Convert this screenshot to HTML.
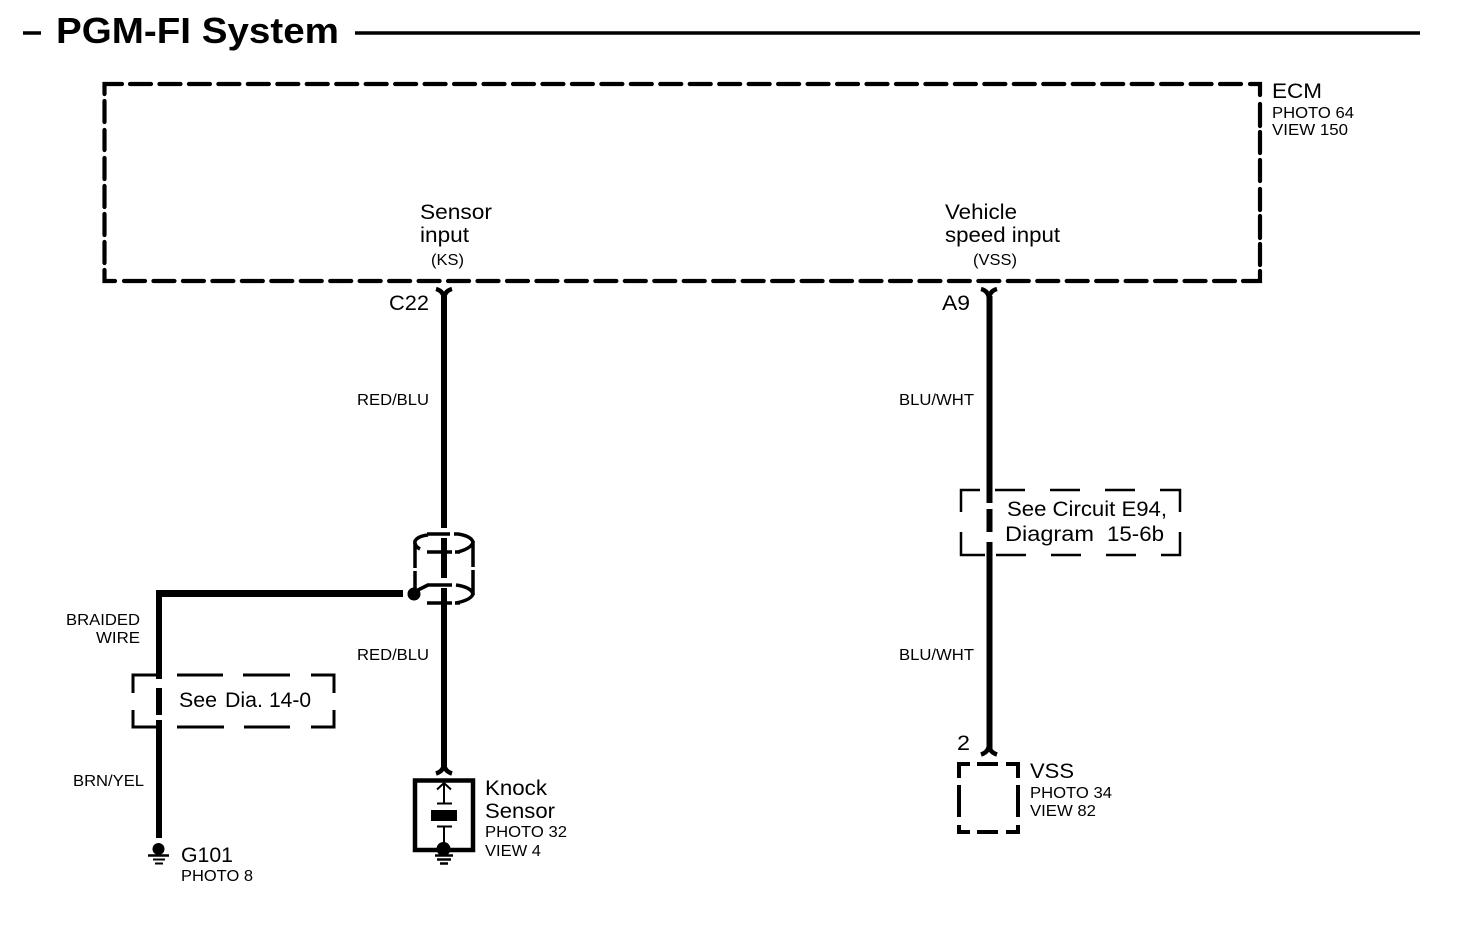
<!DOCTYPE html>
<html><head><meta charset="utf-8"><style>
html,body{margin:0;padding:0;background:#fff}
svg{display:block}
text{font-family:"Liberation Sans",sans-serif;fill:#000}
.m{font-size:21px}.s{font-size:15.5px}
.l{stroke:#000;fill:none}
.r{stroke:#000;fill:none;stroke-width:4.2;stroke-linecap:round}
</style></head><body>
<svg width="1472" height="934" viewBox="0 0 1472 934" xmlns="http://www.w3.org/2000/svg">
<rect width="1472" height="934" fill="#fff"/>
<!-- title -->
<path class="l" stroke-width="3.500" d="M23 33H41M355 33H1420"/>
<text x="56" y="43" font-size="36.5" font-weight="bold" textLength="283" lengthAdjust="spacingAndGlyphs">PGM-FI System</text>
<!-- ECM box -->
<path class="r" d="M122 84H104.500V94M104.500 101V122M104.500 130V150M104.500 158V179M104.500 186V207M104.500 214V235M104.500 242V263M104.500 270V281H115"/>
<path class="r" stroke-dasharray="21 8.460" d="M130 84H1243"/>
<path class="r" stroke-dasharray="21 8.460" d="M124 281H1236"/>
<path class="r" d="M1250 84H1260V95M1260 104V126M1260 132V153M1260 160V181M1260 189V210M1260 216V238M1260 244V265M1260 271V281H1243"/>
<text x="1272" y="98" class="m" textLength="50" lengthAdjust="spacingAndGlyphs">ECM</text>
<text x="1272" y="118" class="s" textLength="82" lengthAdjust="spacingAndGlyphs">PHOTO 64</text>
<text x="1272" y="135" class="s" textLength="76" lengthAdjust="spacingAndGlyphs">VIEW 150</text>
<text x="420" y="219" class="m" textLength="72" lengthAdjust="spacingAndGlyphs">Sensor</text>
<text x="420" y="242" class="m" textLength="49" lengthAdjust="spacingAndGlyphs">input</text>
<text x="431" y="265" class="s" textLength="33" lengthAdjust="spacingAndGlyphs">(KS)</text>
<text x="945" y="219" class="m" textLength="72" lengthAdjust="spacingAndGlyphs">Vehicle</text>
<text x="945" y="242" class="m" textLength="115" lengthAdjust="spacingAndGlyphs">speed input</text>
<text x="973" y="265" class="s" textLength="44" lengthAdjust="spacingAndGlyphs">(VSS)</text>
<!-- left wire -->
<path class="l" stroke-width="6" d="M444 296V528M444 538V578M444 588V770"/>
<path class="l" stroke-width="4.500" d="M436 289Q444 291 444 300Q444 291 452 289"/>
<text x="389" y="310" class="m" textLength="40" lengthAdjust="spacingAndGlyphs">C22</text>
<text x="357" y="405" class="s" textLength="72" lengthAdjust="spacingAndGlyphs">RED/BLU</text>
<text x="357" y="660" class="s" textLength="72" lengthAdjust="spacingAndGlyphs">RED/BLU</text>
<!-- shield -->
<path class="l" stroke-width="3.500" d="M420 549Q414 546 415 541Q418 536 428 535M427 534H450M454 534H458Q471 536 473 542Q472 548 458 552M427 552H452M455 552H460"/>
<path class="l" stroke-width="3.500" d="M415 543V568M415 571V590M473 541V567M473 570V595"/>
<path class="l" stroke-width="3.500" d="M427 585H452M456 585Q471 587 473 594Q471 600 456 603M427 603H452M455 603H460M418 590L428 585"/>
<circle cx="414" cy="594" r="6.500" fill="#000"/>
<path class="l" stroke-width="7" d="M403 593.500H159"/>
<path class="l" stroke-width="6" d="M159 590V679M159 688V715M159 720V838"/>
<text x="66" y="625" class="s" textLength="74" lengthAdjust="spacingAndGlyphs">BRAIDED</text>
<text x="96" y="643" class="s" textLength="44" lengthAdjust="spacingAndGlyphs">WIRE</text>
<text x="73" y="786" class="s" textLength="71" lengthAdjust="spacingAndGlyphs">BRN/YEL</text>
<!-- See Dia box -->
<path class="l" stroke-width="3" d="M133 693V675H156M177 675H223M243 675H290M311 675H334V693M334 710V727H311M290 727H244M224 727H177M156 727H133V710"/>
<text x="179" y="707" class="m" textLength="38" lengthAdjust="spacingAndGlyphs">See</text>
<text x="225" y="707" class="m" textLength="38" lengthAdjust="spacingAndGlyphs">Dia.</text>
<text x="269" y="707" class="m" textLength="42" lengthAdjust="spacingAndGlyphs">14-0</text>
<!-- G101 -->
<circle cx="158.500" cy="849" r="6" fill="#000"/>
<path class="l" d="M148 855.500H169" stroke-width="2.500"/><path class="l" d="M153 859.500H165" stroke-width="2"/><path class="l" d="M155 863.500H163" stroke-width="2"/>
<text x="181" y="862" class="m" textLength="52" lengthAdjust="spacingAndGlyphs">G101</text>
<text x="181" y="881" class="s" textLength="72" lengthAdjust="spacingAndGlyphs">PHOTO 8</text>
<!-- Knock sensor -->
<path class="l" stroke-width="4.500" d="M436 773.500Q444 771 444 763Q444 771 452 773.500"/>
<rect x="415" y="780.500" width="58" height="69.500" fill="none" stroke="#000" stroke-width="4.500"/>
<path class="l" stroke-width="2" d="M444 783V803M437 789.500L444 783L451 789.500M437 803.500H452M437 826.500H452M444 827V845"/>
<rect x="431" y="810" width="26" height="11" fill="#000"/>
<circle cx="443.500" cy="849" r="7" fill="#000"/>
<path class="l" stroke-width="2.500" d="M435 855.500H453"/><path class="l" stroke-width="2.500" d="M437 859.500H451"/><path class="l" stroke-width="2.500" d="M440 863.500H448"/>
<text x="485" y="795" class="m" textLength="62" lengthAdjust="spacingAndGlyphs">Knock</text>
<text x="485" y="818" class="m" textLength="70" lengthAdjust="spacingAndGlyphs">Sensor</text>
<text x="485" y="837" class="s" textLength="82" lengthAdjust="spacingAndGlyphs">PHOTO 32</text>
<text x="485" y="856" class="s" textLength="56" lengthAdjust="spacingAndGlyphs">VIEW 4</text>
<!-- right wire -->
<path class="l" stroke-width="6" d="M989.500 296V503M989.500 509V532M989.500 542V751"/>
<path class="l" stroke-width="4.500" d="M981 289Q989 291 989 300Q989 291 997 289"/>
<path class="l" stroke-width="4.500" d="M981 754.500Q989 752 989 744Q989 752 997 754.500"/>
<text x="942" y="310" class="m" textLength="28" lengthAdjust="spacingAndGlyphs">A9</text>
<text x="899" y="405" class="s" textLength="75" lengthAdjust="spacingAndGlyphs">BLU/WHT</text>
<text x="899" y="660" class="s" textLength="75" lengthAdjust="spacingAndGlyphs">BLU/WHT</text>
<!-- See circuit box -->
<path class="l" stroke-width="2.500" d="M961 512V490H980M995 490H1025M1050 490H1080M1105 490H1135M1160 490H1180V512M1180 532V555H1161M1136 555H1106M1081 555H1051M1026 555H996M985 555H961V532"/>
<text x="1007" y="516" class="m" textLength="160" lengthAdjust="spacingAndGlyphs">See Circuit E94,</text>
<text x="1005" y="541" class="m" textLength="89" lengthAdjust="spacingAndGlyphs">Diagram</text>
<text x="1107" y="541" class="m" textLength="57" lengthAdjust="spacingAndGlyphs">15-6b</text>
<!-- VSS -->
<path class="l" stroke-width="4" d="M959 778V764H970M977 764H998M1006 764H1018V778M1018 785V817M1018 825V832H1006M998 832H977M970 832H959V825M959 817V785"/>
<text x="957" y="750" class="m" textLength="13" lengthAdjust="spacingAndGlyphs">2</text>
<text x="1030" y="778" class="m" textLength="44" lengthAdjust="spacingAndGlyphs">VSS</text>
<text x="1030" y="798" class="s" textLength="82" lengthAdjust="spacingAndGlyphs">PHOTO 34</text>
<text x="1030" y="816" class="s" textLength="66" lengthAdjust="spacingAndGlyphs">VIEW 82</text>
</svg>
</body></html>
